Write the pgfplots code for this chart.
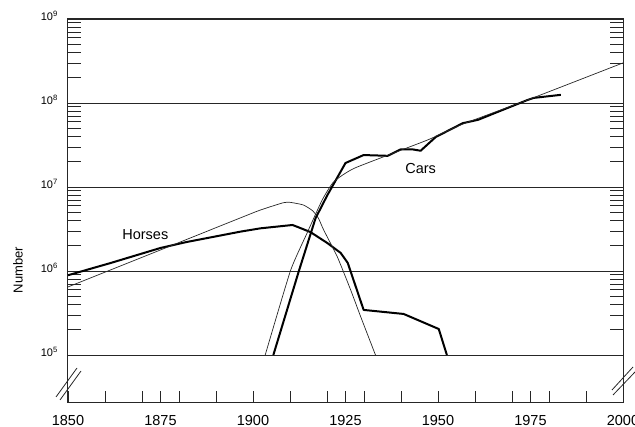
\documentclass[border=0pt]{standalone}
\usepackage{fontspec}
\setmainfont{Liberation Sans}
\usepackage{pgfplots}
\pgfplotsset{compat=1.18}

\begin{document}
\begin{tikzpicture}
\begin{axis}[
    scale only axis,
    width=555pt, height=384pt,
    xmin=1850, xmax=2000,
    ymode=log, ymin=26827, ymax=1e9,
    xtick={1850,1875,1900,1925,1950,1975,2000},
    xticklabels={1850,1875,1900,1925,1950,1975,2000},
    extra x ticks={1860,1870,1880,1890,1910,1920,1930,1940,1960,1970,1980,1990},
    extra x tick labels={},
    xtick pos=left,
    ytick={1e5,1e6,1e7,1e8,1e9},
    yticklabels={10\textsuperscript{5},10\textsuperscript{6},10\textsuperscript{7},10\textsuperscript{8},10\textsuperscript{9}},
    minor ytick={2e5,3e5,4e5,5e5,6e5,7e5,8e5,9e5,
                 2e6,3e6,4e6,5e6,6e6,7e6,8e6,9e6,
                 2e7,3e7,4e7,5e7,6e7,7e7,8e7,9e7,
                 2e8,3e8,4e8,5e8,6e8,7e8,8e8,9e8},
    ytick pos=both,
    tick align=inside,
    major tick length=12pt, minor tick length=13pt,
    tick style={black!85, line width=0.8pt},
    ymajorgrids, major grid style={black!85, line width=0.7pt},
    axis line style={black!85, line width=1pt},
    xticklabel style={font=\fontsize{14.5}{16}\selectfont, anchor=north, inner sep=0pt, yshift=-12pt},
    yticklabel style={font=\fontsize{11}{13}\selectfont, anchor=south east, inner sep=0pt, xshift=-10pt, yshift=-2pt},
    ylabel={Number},
    ylabel style={font=\fontsize{13}{15}\selectfont, at={(rel axis cs:-0.09,0.346)}, anchor=center},
    clip=false,
]
  % horses, census
  \addplot[black, mark=none, line width=2pt, line join=round] coordinates {
    (1850,8.9e5) (1861.4,1.24e6) (1875,1.88e6) (1882,2.21e6) (1896.6,2.94e6)
    (1902,3.22e6) (1910.7,3.53e6) (1915.5,2.91e6) (1920.1,2.15e6) (1923.7,1.64e6)
    (1925.6,1.25e6) (1929.9,3.44e5) (1940.7,3.08e5) (1950.2,2.04e5) (1952.4,1.0e5)
  };
  % horses, logistic fit
  \addplot[black!85, mark=none, line width=0.7pt, smooth, tension=0.3] coordinates {
    (1850,6.46e5) (1875,1.78e6) (1896.6,4.29e6) (1902,5.32e6) (1908.2,6.5e6)
    (1910.1,6.56e6) (1913.6,6.11e6) (1916.1,5.22e6) (1917.7,4.24e6) (1919.1,3.08e6)
    (1922.8,1.47e6) (1926.4,5.94e5) (1929.1,2.86e5) (1933.1,1.0e5)
  };
  % cars, registrations
  \addplot[black, mark=none, line width=2pt, line join=round] coordinates {
    (1905.5,1e5) (1912.4,1e6) (1916.9,4.24e6) (1920.1,8.0e6) (1925.0,1.93e7)
    (1929.9,2.4e7) (1936.4,2.35e7) (1939.9,2.8e7) (1943.2,2.8e7) (1945.3,2.7e7)
    (1949.4,3.94e7) (1956.7,5.75e7) (1960.8,6.3e7) (1974.3,1.09e8) (1975.9,1.15e8)
    (1983.2,1.25e8)
  };
  % cars, logistic fit
  \addplot[black!85, mark=none, line width=0.7pt, smooth, tension=0.3] coordinates {
    (1903.3,1e5) (1910.1,1e6) (1914.6,2.82e6) (1918.7,7.0e6) (1921.8,1.15e7)
    (1927.5,1.68e7) (1947.2,3.63e7) (1956.2,5.5e7) (1974.3,1.09e8) (2000,3.0e8)
  };
  \node[font=\fontsize{14.5}{16}\selectfont] at (axis cs:1870.9,2.7e6) {Horses};
  \node[font=\fontsize{14.5}{16}\selectfont] at (axis cs:1945.3,1.68e7) {Cars};
\end{axis}
% axis breaks
\draw[black!85, line width=0.8pt] (-12pt,6pt) -- (9pt,35pt);
\draw[black!85, line width=0.8pt] (-8pt,3pt) -- (13pt,32pt);
\draw[black!85, line width=0.8pt] (544pt,13pt) -- (565pt,36pt);
\draw[black!85, line width=0.8pt] (545pt,8pt) -- (567pt,31pt);
\pgfresetboundingbox
\useasboundingbox (-68pt,-24pt) rectangle (567pt,403pt);
\end{tikzpicture}
\end{document}
